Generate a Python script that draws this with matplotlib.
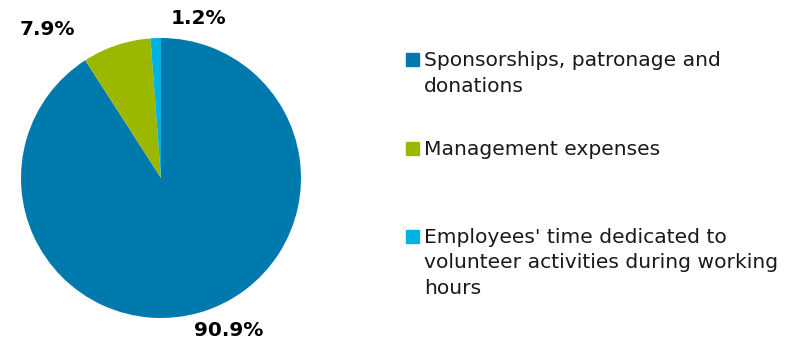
# Pie chart of social contribution breakdown
import matplotlib
matplotlib.use('Agg')
import matplotlib.pyplot as plt
from matplotlib.patches import Rectangle

categories = ["Sponsorships, patronage and\ndonations",
              "Management expenses",
              "Employees' time dedicated to\nvolunteer activities during working\nhours"]
values = [90.9, 7.9, 1.2]
pct_labels = ["90.9%", "7.9%", "1.2%"]
colors = ["#0079ad", "#9bb700", "#00b2e3"]

W, H = 787, 341
fig = plt.figure(figsize=(W / 100, H / 100), dpi=100)

# pie axes: circle of radius 140 px centred at (161, 178)
cx, cy, r = 161, 178, 140
ax = fig.add_axes([(cx - r) / W, (H - cy - r) / H, 2 * r / W, 2 * r / H])
ax.pie(values, colors=colors, startangle=90, counterclock=False,
       wedgeprops=dict(linewidth=0))
ax.set_xlim(-1, 1)
ax.set_ylim(-1, 1)
ax.set_aspect('equal')

# percent labels (data coords relative to the pie)
label_pos = [(0.48, -1.09), (-0.81, 1.06), (0.27, 1.14)]
for txt, (x, y) in zip(pct_labels, label_pos):
    ax.text(x, y, txt, ha='center', va='center', fontsize=14.5,
            fontweight='bold', color='black', clip_on=False)

# legend drawn by hand
baselines = [66, 155, 243]
line_px = 25.5
for lab, col, yb in zip(categories, colors, baselines):
    fig.patches.append(Rectangle((406 / W, (H - yb) / H), 13 / W, 13 / H,
                                 transform=fig.transFigure, color=col))
    for i, line in enumerate(lab.split("\n")):
        fig.text(424 / W, (H - yb - i * line_px) / H, line, ha='left',
                 va='baseline', fontsize=14.6, color='#1a1a1a',
                 transform=fig.transFigure)

fig.savefig("out.png", dpi=100)
